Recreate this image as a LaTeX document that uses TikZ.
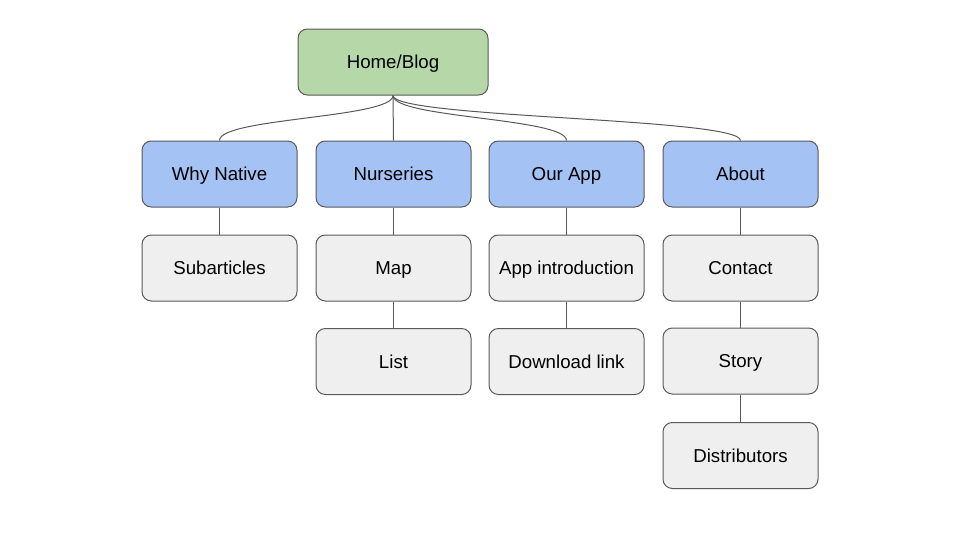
\documentclass[tikz,border=0pt]{standalone}
\usepackage{fontspec}
\setmainfont{Liberation Sans}
\definecolor{boxgreen}{HTML}{B6D7A8}
\definecolor{boxblue}{HTML}{A4C2F4}
\definecolor{boxgray}{HTML}{EFEFEF}
\definecolor{edgegray}{HTML}{595959}
\begin{document}
\begin{tikzpicture}[x=0.75pt,y=-0.75pt,
  box/.style={draw=edgegray,line width=0.75pt,rounded corners=7pt,minimum width=116.25pt,minimum height=49.5pt,inner sep=0pt,text height=13pt,text depth=3pt,font=\fontsize{14}{16}\selectfont,text=black},
  homebox/.style={box,fill=boxgreen,minimum width=142.5pt},
  secbox/.style={box,fill=boxblue},
  pagebox/.style={box,fill=boxgray},
  link/.style={draw=edgegray,line width=0.75pt}]
\useasboundingbox (0,0) rectangle (960,540);
\node[homebox] (home) at (393,62) {Home/Blog};
\node[secbox] (why) at (219.5,174) {Why Native};
\node[secbox] (nur) at (393.5,174) {Nurseries};
\node[secbox] (app) at (566.5,174) {Our App};
\node[secbox] (about) at (740.5,174) {About};
\node[pagebox] (sub) at (219.5,268) {Subarticles};
\node[pagebox] (map) at (393.5,268) {Map};
\node[pagebox] (list) at (393.5,361.5) {List};
\node[pagebox] (intro) at (566.5,268) {App introduction};
\node[pagebox] (dl) at (566.5,361.5) {Download link};
\node[pagebox] (contact) at (740.5,268) {Contact};
\node[pagebox] (story) at (740.5,361) {Story};
\node[pagebox] (dist) at (740.5,455.5) {Distributors};
\foreach \c in {why,app,about}{
  \draw[link] (home.south) .. controls ([yshift=-17pt]home.south) and ([yshift=17pt]\c.north) .. (\c.north);
}
\draw[link] (home.south) -- (nur.north);
\draw[link] (why) -- (sub);
\draw[link] (nur) -- (map);
\draw[link] (map) -- (list);
\draw[link] (app) -- (intro);
\draw[link] (intro) -- (dl);
\draw[link] (about) -- (contact);
\draw[link] (contact) -- (story);
\draw[link] (story) -- (dist);
\end{tikzpicture}
\end{document}
